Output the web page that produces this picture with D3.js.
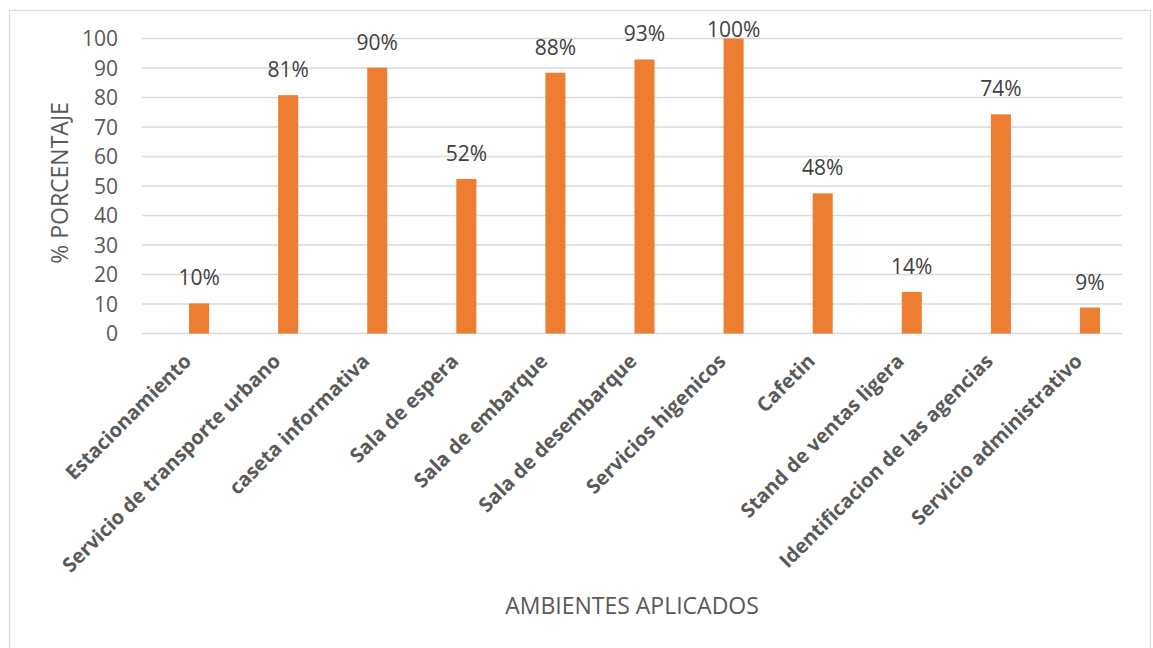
<!DOCTYPE html>
<html>
<head>
<meta charset="utf-8">
<script src="https://cdn.jsdelivr.net/npm/d3@7"></script>
<style>
  html, body { margin: 0; padding: 0; background: #fff; }
  svg { display: block; font-family: "Open Sans", sans-serif; }
</style>
</head>
<body>
<svg id="chart" width="1153" height="648"></svg>
<script>
const categories = [
  "Estacionamiento",
  "Servicio de transporte urbano",
  "caseta informativa",
  "Sala de espera",
  "Sala de embarque",
  "Sala de desembarque",
  "Servicios higenicos",
  "Cafetin",
  "Stand de ventas ligera",
  "Identificacion de las agencias",
  "Servicio administrativo"
];
const values = [10.2, 80.8, 90.1, 52.4, 88.4, 92.9, 100, 47.5, 14.1, 74.3, 8.8];
const valueLabels = ["10%", "81%", "90%", "52%", "88%", "93%", "100%", "48%", "14%", "74%", "9%"];
const yTicks = [0, 10, 20, 30, 40, 50, 60, 70, 80, 90, 100];
const yTitle = "% PORCENTAJE";
const xTitle = "AMBIENTES APLICADOS";

const svg = d3.select("#chart");
const plot = { left: 142, right: 1122, top: 38.5, bottom: 333.5 };

// outer chart border
svg.append("rect")
  .attr("x", 9.5).attr("y", 10.5)
  .attr("width", 1141).attr("height", 700)
  .attr("fill", "none").attr("stroke", "#D9D9D9").attr("stroke-width", 1.3);

const x = d3.scaleBand().domain(categories).range([plot.left, plot.right]).paddingInner(0).paddingOuter(0);
const y = d3.scaleLinear().domain([0, 100]).range([plot.bottom, plot.top]);

// gridlines
svg.append("g").selectAll("line").data(yTicks).join("line")
  .attr("x1", plot.left).attr("x2", plot.right)
  .attr("y1", d => y(d)).attr("y2", d => y(d))
  .attr("stroke", "#D9D9D9").attr("stroke-width", 1.3);

// y tick labels
const yAxis = d3.axisLeft(y).tickValues(yTicks).tickSize(0).tickPadding(0);
const gy = svg.append("g").attr("transform", `translate(${plot.left - 24},0)`).call(yAxis);
gy.select(".domain").remove();
gy.selectAll("text")
  .attr("font-family", "Open Sans").attr("font-size", 21).attr("fill", "#595959")
  .attr("dy", "0.35em");

// bars
const step = x.step();
const barW = step * 0.225;
const barOff = step * 0.528;
svg.append("g").selectAll("rect").data(values).join("rect")
  .attr("x", (d, i) => x(categories[i]) + barOff)
  .attr("y", d => y(d))
  .attr("width", barW)
  .attr("height", d => y(0) - y(d))
  .attr("fill", "#ED7D31");

// data labels
svg.append("g").selectAll("text").data(values).join("text")
  .attr("x", (d, i) => x(categories[i]) + barOff + barW / 2)
  .attr("y", d => Math.max(y(d) - 18, 37))
  .attr("text-anchor", "middle")
  .attr("font-size", 21).attr("fill", "#404040")
  .text((d, i) => valueLabels[i]);

// x axis category labels
const xAxis = d3.axisBottom(x).tickSize(0).tickPadding(0);
const gx = svg.append("g").attr("transform", `translate(0,${plot.bottom})`).call(xAxis);
gx.select(".domain").remove();
gx.selectAll(".tick text")
  .attr("font-family", "Open Sans").attr("font-size", 20).attr("font-weight", 700)
  .attr("fill", "#595959")
  .attr("text-anchor", "end")
  .attr("dy", null).attr("y", 0)
  .attr("transform", "translate(6,29) rotate(-45)");

// axis titles
svg.append("text")
  .attr("transform", `translate(68,183) rotate(-90)`)
  .attr("text-anchor", "middle")
  .attr("font-size", 23).attr("fill", "#595959")
  .text(yTitle);

svg.append("text")
  .attr("x", 632).attr("y", 614)
  .attr("text-anchor", "middle")
  .attr("font-size", 23).attr("fill", "#595959")
  .text(xTitle);
</script>
</body>
</html>
